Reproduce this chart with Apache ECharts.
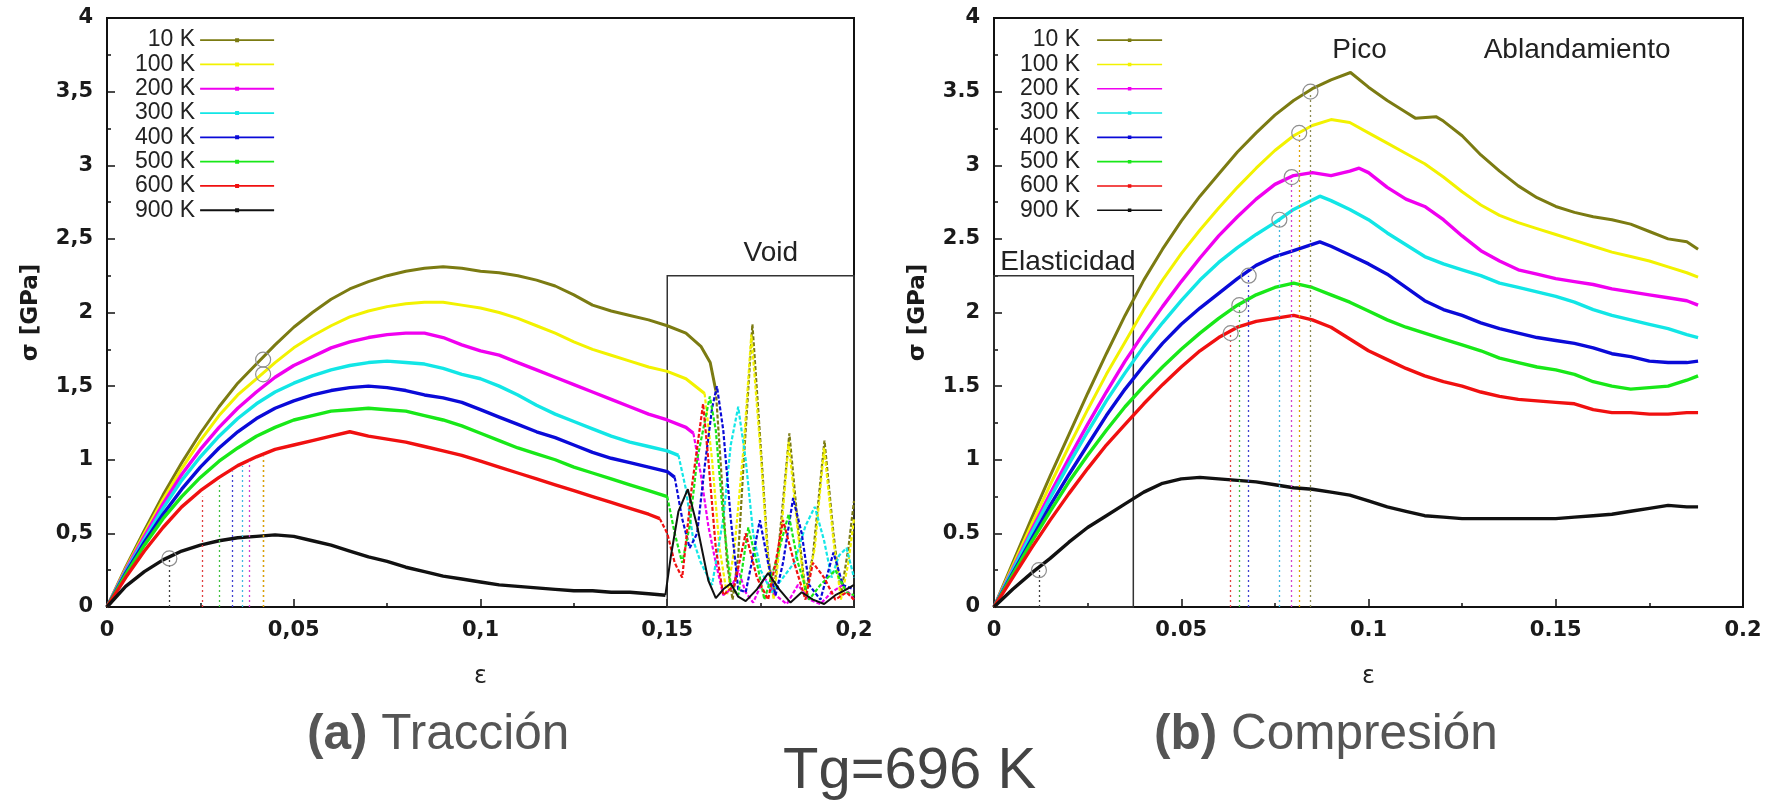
<!DOCTYPE html>
<html><head><meta charset="utf-8">
<script src="https://cdn.jsdelivr.net/npm/echarts@6/dist/echarts.min.js"></script>
<style>html,body{margin:0;padding:0;background:#fff}#c{width:1776px;height:802px}</style>
</head><body><div id="c"></div>
<script>
// ---------- categories ----------
const temps = ['10 K','100 K','200 K','300 K','400 K','500 K','600 K','900 K'];
const colors = ['#7b7b12','#f2f200','#f000f0','#12e6e6','#0a0ad8','#18e818','#f01010','#111111'];
const markColors = ['#8a8a50','#e0a000','#d040d0','#40b8e0','#4040d0','#40c040','#e04040','#404040'];

// ---------- tick labels ----------
const xTicksTrac = ['0','0,05','0,1','0,15','0,2'];
const xTicksComp = ['0','0.05','0.1','0.15','0.2'];

// ---------- (a) Tracción: strain / stress [GPa] ----------
const trac10 = [[0,0],[0.005,0.27],[0.01,0.52],[0.015,0.76],[0.02,0.98],[0.025,1.18],[0.03,1.36],[0.035,1.52],[0.04,1.65],[0.045,1.78],[0.05,1.9],[0.055,2.0],[0.06,2.09],[0.065,2.16],[0.07,2.21],[0.075,2.25],[0.08,2.28],[0.085,2.3],[0.09,2.31],[0.095,2.3],[0.1,2.28],[0.105,2.27],[0.11,2.25],[0.115,2.22],[0.12,2.18],[0.125,2.12],[0.13,2.05],[0.135,2.01],[0.14,1.98],[0.145,1.95],[0.15,1.91],[0.155,1.86],[0.159,1.77],[0.1615,1.66],[0.163,1.47],
  [0.1645,0.9],[0.166,0.3],[0.1675,0.05],[0.169,0.35],[0.1705,1.0],[0.1728,1.92],[0.175,1.1],[0.177,0.35],[0.1785,0.08],[0.18,0.45],[0.1827,1.18],[0.185,0.55],[0.187,0.1],[0.189,0.35],[0.1921,1.13],[0.1945,0.5],[0.1965,0.08],[0.1985,0.4],[0.2,0.72]];
const trac100 = [[0,0],[0.005,0.26],[0.01,0.5],[0.015,0.73],[0.02,0.94],[0.025,1.13],[0.03,1.3],[0.035,1.44],[0.04,1.55],[0.045,1.66],[0.05,1.76],[0.055,1.84],[0.06,1.91],[0.065,1.97],[0.07,2.01],[0.075,2.04],[0.08,2.06],[0.085,2.07],[0.09,2.07],[0.095,2.05],[0.1,2.03],[0.105,2.0],[0.11,1.96],[0.115,1.91],[0.12,1.86],[0.125,1.8],[0.13,1.75],[0.135,1.71],[0.14,1.67],[0.145,1.63],[0.15,1.6],[0.155,1.55],[0.16,1.45],
  [0.162,1.0],[0.164,0.4],[0.166,0.08],[0.168,0.4],[0.1705,1.1],[0.1725,1.85],[0.175,1.05],[0.177,0.3],[0.1785,0.05],[0.1805,0.5],[0.1825,1.12],[0.185,0.5],[0.187,0.08],[0.1895,0.4],[0.192,1.08],[0.1945,0.45],[0.1965,0.05],[0.1985,0.3],[0.2,0.6]];
const trac200 = [[0,0],[0.005,0.25],[0.01,0.48],[0.015,0.7],[0.02,0.9],[0.025,1.07],[0.03,1.22],[0.035,1.35],[0.04,1.46],[0.045,1.56],[0.05,1.64],[0.055,1.7],[0.06,1.76],[0.065,1.8],[0.07,1.83],[0.075,1.85],[0.08,1.86],[0.085,1.86],[0.09,1.83],[0.095,1.78],[0.1,1.74],[0.105,1.71],[0.11,1.66],[0.115,1.61],[0.12,1.56],[0.125,1.51],[0.13,1.46],[0.135,1.41],[0.14,1.36],[0.145,1.31],[0.15,1.27],[0.155,1.22],[0.157,1.18],
  [0.159,0.9],[0.161,0.55],[0.163,0.3],[0.165,0.08],[0.167,0.12],[0.169,0.25],[0.171,0.1],[0.173,0.03],[0.176,0.2],[0.179,0.08],[0.182,0.02],[0.185,0.15],[0.188,0.05],[0.191,0.02],[0.194,0.1],[0.197,0.15],[0.2,0.05]];
const trac300 = [[0,0],[0.005,0.24],[0.01,0.46],[0.015,0.67],[0.02,0.86],[0.025,1.02],[0.03,1.16],[0.035,1.28],[0.04,1.38],[0.045,1.46],[0.05,1.52],[0.055,1.57],[0.06,1.61],[0.065,1.64],[0.07,1.66],[0.075,1.67],[0.08,1.66],[0.085,1.65],[0.09,1.62],[0.095,1.58],[0.1,1.55],[0.105,1.5],[0.11,1.44],[0.115,1.37],[0.12,1.31],[0.125,1.26],[0.13,1.21],[0.135,1.16],[0.14,1.12],[0.145,1.09],[0.15,1.06],[0.153,1.03],
  [0.155,0.8],[0.157,0.45],[0.159,0.3],[0.162,0.15],[0.165,0.6],[0.167,1.1],[0.169,1.36],[0.171,1.0],[0.173,0.5],[0.175,0.25],[0.178,0.1],[0.181,0.2],[0.184,0.3],[0.187,0.55],[0.1895,0.68],[0.192,0.45],[0.194,0.2],[0.196,0.35],[0.198,0.4],[0.2,0.2]];
const trac400 = [[0,0],[0.005,0.23],[0.01,0.44],[0.015,0.63],[0.02,0.8],[0.025,0.95],[0.03,1.08],[0.035,1.19],[0.04,1.28],[0.045,1.35],[0.05,1.4],[0.055,1.44],[0.06,1.47],[0.065,1.49],[0.07,1.5],[0.075,1.49],[0.08,1.47],[0.085,1.44],[0.09,1.42],[0.095,1.39],[0.1,1.34],[0.105,1.29],[0.11,1.24],[0.115,1.19],[0.12,1.15],[0.125,1.1],[0.13,1.05],[0.135,1.01],[0.14,0.98],[0.145,0.95],[0.15,0.92],[0.152,0.88],
  [0.154,0.6],[0.156,0.4],[0.158,0.5],[0.16,0.95],[0.162,1.35],[0.1633,1.5],[0.165,1.2],[0.167,0.6],[0.169,0.12],[0.171,0.1],[0.173,0.35],[0.1748,0.59],[0.177,0.3],[0.179,0.08],[0.181,0.3],[0.1837,0.74],[0.186,0.5],[0.188,0.15],[0.191,0.05],[0.1945,0.37],[0.197,0.15],[0.2,0.12]];
const trac500 = [[0,0],[0.005,0.22],[0.01,0.42],[0.015,0.6],[0.02,0.75],[0.025,0.88],[0.03,0.99],[0.035,1.08],[0.04,1.16],[0.045,1.22],[0.05,1.27],[0.055,1.3],[0.06,1.33],[0.065,1.34],[0.07,1.35],[0.075,1.34],[0.08,1.33],[0.085,1.3],[0.09,1.27],[0.095,1.23],[0.1,1.18],[0.105,1.13],[0.11,1.08],[0.115,1.04],[0.12,1.0],[0.125,0.95],[0.13,0.91],[0.135,0.87],[0.14,0.83],[0.145,0.79],[0.15,0.75],
  [0.152,0.5],[0.154,0.3],[0.156,0.55],[0.158,1.0],[0.1614,1.43],[0.163,1.2],[0.165,0.6],[0.167,0.15],[0.169,0.08],[0.1717,0.54],[0.174,0.3],[0.176,0.05],[0.179,0.3],[0.1825,0.63],[0.185,0.3],[0.188,0.05],[0.191,0.15],[0.195,0.25],[0.198,0.1],[0.2,0.08]];
const trac600 = [[0,0],[0.005,0.2],[0.01,0.38],[0.015,0.54],[0.02,0.68],[0.025,0.79],[0.03,0.88],[0.035,0.96],[0.04,1.02],[0.045,1.07],[0.05,1.1],[0.055,1.13],[0.06,1.16],[0.065,1.19],[0.07,1.16],[0.075,1.14],[0.08,1.12],[0.085,1.09],[0.09,1.06],[0.095,1.03],[0.1,0.99],[0.105,0.95],[0.11,0.91],[0.115,0.87],[0.12,0.83],[0.125,0.79],[0.13,0.75],[0.135,0.71],[0.14,0.67],[0.145,0.63],[0.148,0.6],
  [0.15,0.5],[0.152,0.3],[0.154,0.2],[0.1565,0.8],[0.1596,1.38],[0.161,1.0],[0.163,0.4],[0.165,0.08],[0.168,0.15],[0.171,0.5],[0.174,0.2],[0.177,0.05],[0.179,0.3],[0.181,0.59],[0.184,0.3],[0.187,0.05],[0.189,0.3],[0.192,0.2],[0.195,0.05],[0.198,0.1],[0.2,0.05]];
const trac900 = [[0,0],[0.005,0.14],[0.01,0.24],[0.015,0.32],[0.02,0.38],[0.025,0.42],[0.03,0.45],[0.035,0.47],[0.04,0.48],[0.045,0.49],[0.05,0.48],[0.055,0.45],[0.06,0.42],[0.065,0.38],[0.07,0.34],[0.075,0.31],[0.08,0.27],[0.085,0.24],[0.09,0.21],[0.095,0.19],[0.1,0.17],[0.105,0.15],[0.11,0.14],[0.115,0.13],[0.12,0.12],[0.125,0.11],[0.13,0.11],[0.135,0.1],[0.14,0.1],[0.145,0.09],[0.1495,0.08],
  [0.151,0.35],[0.153,0.65],[0.1555,0.8],[0.158,0.55],[0.161,0.18],[0.163,0.06],[0.165,0.12],[0.167,0.16],[0.169,0.07],[0.171,0.04],[0.174,0.12],[0.177,0.23],[0.18,0.12],[0.183,0.03],[0.186,0.1],[0.189,0.05],[0.192,0.02],[0.195,0.08],[0.198,0.12],[0.2,0.15]];
// strain where each tension curve turns into the post-void oscillation
const tracSolidEnd = [0.163,0.16,0.157,0.153,0.152,0.15,0.148,0.1495];
// yield markers (tension): strain, circle stress (null = hidden under the curves), dotted-line top
const tracYieldX = [0.0418,0.0418,0.038,0.0362,0.0335,0.030,0.0254,0.0167];
const tracYieldV = [1.68,1.58,null,null,null,null,null,0.33];
const tracYieldTop = [1.02,1.02,0.99,0.96,0.92,0.85,0.75,0.32];

// ---------- (b) Compresión ----------
const comp10 = [[0,0],[0.005,0.3],[0.01,0.6],[0.015,0.89],[0.02,1.17],[0.025,1.45],[0.03,1.72],[0.035,1.98],[0.04,2.22],[0.045,2.43],[0.05,2.62],[0.055,2.79],[0.06,2.94],[0.065,3.09],[0.07,3.22],[0.075,3.34],[0.08,3.44],[0.085,3.52],[0.09,3.58],[0.0952,3.63],[0.1,3.53],[0.105,3.44],[0.11,3.36],[0.1125,3.32],[0.118,3.33],[0.12,3.3],[0.125,3.2],[0.13,3.07],[0.135,2.96],[0.14,2.86],[0.145,2.78],[0.15,2.72],[0.155,2.68],[0.16,2.65],[0.165,2.63],[0.17,2.6],[0.175,2.55],[0.18,2.5],[0.185,2.48],[0.188,2.43]];
const comp100 = [[0,0],[0.005,0.28],[0.01,0.56],[0.015,0.83],[0.02,1.09],[0.025,1.34],[0.03,1.58],[0.035,1.8],[0.04,2.02],[0.045,2.22],[0.05,2.4],[0.055,2.56],[0.06,2.71],[0.065,2.85],[0.07,2.98],[0.075,3.1],[0.08,3.2],[0.085,3.27],[0.09,3.31],[0.095,3.29],[0.1,3.22],[0.105,3.15],[0.11,3.08],[0.115,3.01],[0.12,2.92],[0.125,2.82],[0.13,2.73],[0.135,2.66],[0.14,2.61],[0.145,2.57],[0.15,2.53],[0.155,2.49],[0.16,2.45],[0.165,2.41],[0.17,2.38],[0.175,2.35],[0.18,2.31],[0.185,2.27],[0.188,2.24]];
const comp200 = [[0,0],[0.005,0.26],[0.01,0.52],[0.015,0.77],[0.02,1.01],[0.025,1.24],[0.03,1.46],[0.035,1.67],[0.04,1.86],[0.045,2.04],[0.05,2.21],[0.055,2.37],[0.06,2.52],[0.065,2.65],[0.07,2.77],[0.075,2.87],[0.08,2.93],[0.085,2.95],[0.09,2.93],[0.095,2.96],[0.0975,2.98],[0.1,2.95],[0.105,2.85],[0.11,2.77],[0.115,2.72],[0.12,2.63],[0.125,2.52],[0.13,2.42],[0.135,2.35],[0.14,2.29],[0.145,2.26],[0.15,2.23],[0.155,2.21],[0.16,2.19],[0.165,2.16],[0.17,2.14],[0.175,2.12],[0.18,2.1],[0.185,2.08],[0.188,2.05]];
const comp300 = [[0,0],[0.005,0.25],[0.01,0.5],[0.015,0.74],[0.02,0.97],[0.025,1.19],[0.03,1.4],[0.035,1.59],[0.04,1.77],[0.045,1.93],[0.05,2.08],[0.055,2.22],[0.06,2.34],[0.065,2.44],[0.07,2.53],[0.075,2.61],[0.08,2.7],[0.087,2.79],[0.09,2.76],[0.095,2.7],[0.1,2.63],[0.105,2.54],[0.11,2.46],[0.115,2.38],[0.12,2.33],[0.125,2.29],[0.13,2.25],[0.135,2.2],[0.14,2.17],[0.145,2.14],[0.15,2.11],[0.155,2.07],[0.16,2.02],[0.165,1.98],[0.17,1.95],[0.175,1.92],[0.18,1.89],[0.185,1.85],[0.188,1.83]];
const comp400 = [[0,0],[0.005,0.23],[0.01,0.46],[0.015,0.69],[0.02,0.9],[0.025,1.1],[0.03,1.3],[0.035,1.48],[0.04,1.64],[0.045,1.79],[0.05,1.92],[0.055,2.03],[0.06,2.13],[0.065,2.23],[0.07,2.32],[0.075,2.38],[0.08,2.42],[0.087,2.48],[0.09,2.45],[0.095,2.39],[0.1,2.33],[0.105,2.26],[0.11,2.17],[0.115,2.08],[0.12,2.02],[0.125,1.98],[0.13,1.93],[0.135,1.89],[0.14,1.86],[0.145,1.83],[0.15,1.81],[0.155,1.79],[0.16,1.76],[0.165,1.72],[0.17,1.7],[0.175,1.67],[0.18,1.66],[0.185,1.66],[0.188,1.67]];
const comp500 = [[0,0],[0.005,0.22],[0.01,0.44],[0.015,0.65],[0.02,0.85],[0.025,1.03],[0.03,1.2],[0.035,1.36],[0.04,1.5],[0.045,1.63],[0.05,1.75],[0.055,1.86],[0.06,1.96],[0.065,2.05],[0.07,2.12],[0.075,2.17],[0.08,2.2],[0.085,2.17],[0.09,2.12],[0.095,2.07],[0.1,2.01],[0.105,1.95],[0.11,1.9],[0.115,1.86],[0.12,1.82],[0.125,1.78],[0.13,1.74],[0.135,1.69],[0.14,1.66],[0.145,1.63],[0.15,1.61],[0.155,1.58],[0.16,1.53],[0.165,1.5],[0.17,1.48],[0.175,1.49],[0.18,1.5],[0.185,1.54],[0.188,1.57]];
const comp600 = [[0,0],[0.005,0.2],[0.01,0.4],[0.015,0.59],[0.02,0.77],[0.025,0.94],[0.03,1.1],[0.035,1.24],[0.04,1.38],[0.045,1.51],[0.05,1.63],[0.055,1.74],[0.06,1.83],[0.065,1.9],[0.07,1.94],[0.075,1.96],[0.08,1.98],[0.085,1.95],[0.09,1.9],[0.095,1.82],[0.1,1.74],[0.105,1.68],[0.11,1.62],[0.115,1.57],[0.12,1.53],[0.125,1.5],[0.13,1.46],[0.135,1.43],[0.14,1.41],[0.145,1.4],[0.15,1.39],[0.155,1.38],[0.16,1.34],[0.165,1.32],[0.17,1.32],[0.175,1.31],[0.18,1.31],[0.185,1.32],[0.188,1.32]];
const comp900 = [[0,0],[0.005,0.12],[0.01,0.23],[0.015,0.33],[0.02,0.44],[0.025,0.54],[0.03,0.62],[0.035,0.7],[0.04,0.78],[0.045,0.84],[0.05,0.87],[0.055,0.88],[0.06,0.87],[0.065,0.86],[0.07,0.85],[0.075,0.83],[0.08,0.81],[0.085,0.8],[0.09,0.78],[0.095,0.76],[0.1,0.72],[0.105,0.68],[0.11,0.65],[0.115,0.62],[0.12,0.61],[0.125,0.6],[0.13,0.6],[0.135,0.6],[0.14,0.6],[0.145,0.6],[0.15,0.6],[0.155,0.61],[0.16,0.62],[0.165,0.63],[0.17,0.65],[0.175,0.67],[0.18,0.69],[0.185,0.68],[0.188,0.68]];
const compYieldX = [0.0845,0.0815,0.0795,0.0762,0.068,0.0655,0.0632,0.012];
const compYieldV = [3.5,3.22,2.92,2.63,2.25,2.05,1.86,0.25];

const tracData = [trac10,trac100,trac200,trac300,trac400,trac500,trac600,trac900];
const compData = [comp10,comp100,comp200,comp300,comp400,comp500,comp600,comp900];

// ---------- build ----------
const TICK_FONT = {fontFamily:'DejaVu Sans', fontWeight:'bold', fontSize:21, color:'#1a1a1a'};
function xAxisCfg(gridIndex, labels){
  return {type:'value', gridIndex, min:0, max:0.2, interval:0.05,
    name:'ε', nameLocation:'middle', nameGap:58,
    nameTextStyle:{fontFamily:'DejaVu Sans', fontSize:24, color:'#222'},
    axisLine:{show:true, onZero:false, lineStyle:{color:'#111', width:2}},
    axisTick:{show:true, inside:true, length:8, lineStyle:{color:'#111', width:1.5}},
    minorTick:{show:true, splitNumber:2, length:4, lineStyle:{color:'#111', width:1.5}},
    splitLine:{show:false},
    axisLabel:Object.assign({margin:13, formatter:(v)=>labels[Math.round(v/0.05)]}, TICK_FONT)};
}
function yAxisCfg(gridIndex, comma){
  return {type:'value', gridIndex, min:0, max:4, interval:0.5,
    name:'σ [GPa]', nameLocation:'middle', nameGap:64, nameRotate:90,
    nameTextStyle:{fontFamily:'DejaVu Sans', fontWeight:'bold', fontSize:23, color:'#1a1a1a'},
    axisLine:{show:true, onZero:false, lineStyle:{color:'#111', width:2}},
    axisTick:{show:true, inside:true, length:8, lineStyle:{color:'#111', width:1.5}},
    minorTick:{show:true, splitNumber:2, length:4, lineStyle:{color:'#111', width:1.5}},
    splitLine:{show:false},
    axisLabel:Object.assign({margin:14, formatter:(v)=>{const s=String(+v.toFixed(2)); return comma?s.replace('.',','):s;}}, TICK_FONT)};
}
const annoText = {fontFamily:'Liberation Sans', fontSize:28, color:'#222'};
const circleStyle = {color:'rgba(0,0,0,0)', borderColor:'#8f8f8f', borderWidth:1.2};

const series = [];
temps.forEach((name, i) => {
  const end = tracSolidEnd[i];
  const w = i < 2 ? 3 : 3.4;
  const base = {type:'line', name, showSymbol:false, symbol:'none', silent:true, animation:false,
    itemStyle:{color:colors[i]}, emphasis:{disabled:true}, clip:true};
  const s1 = Object.assign({}, base, {xAxisIndex:0, yAxisIndex:0,
    data: tracData[i].filter(p => p[0] <= end),
    lineStyle:{color:colors[i], width:w},
    markLine:{silent:true, symbol:['none','none'], label:{show:false},
      lineStyle:{color:markColors[i], width:1.3, type:[2,3]},
      data:[[{coord:[tracYieldX[i],0]},{coord:[tracYieldX[i],tracYieldTop[i]]}]]},
    markPoint:{silent:true, symbol:'circle', symbolSize:15, label:{show:false},
      itemStyle:circleStyle,
      data: tracYieldV[i] == null ? [] : [{coord:[tracYieldX[i], tracYieldV[i]]}]}
  });
  const s2 = Object.assign({}, base, {xAxisIndex:0, yAxisIndex:0,
    data: tracData[i].filter(p => p[0] >= end),
    lineStyle:{color:colors[i], width: i===7 ? 2 : 2.2, type: i===7 ? 'solid' : [4,2]}});
  const s3 = Object.assign({}, base, {xAxisIndex:1, yAxisIndex:1,
    data: compData[i],
    lineStyle:{color:colors[i], width:w},
    markLine:{silent:true, symbol:['none','none'], label:{show:false},
      lineStyle:{color:markColors[i], width:1.3, type:[2,3]},
      data:[[{coord:[compYieldX[i],0]},{coord:[compYieldX[i],compYieldV[i]]}]]},
    markPoint:{silent:true, symbol:'circle', symbolSize:15, label:{show:false},
      itemStyle:circleStyle,
      data:[{coord:[compYieldX[i], compYieldV[i]]}]}
  });
  if (i === 7) {
    s1.markArea = {silent:true,
      itemStyle:{color:'rgba(0,0,0,0)', borderColor:'#333', borderWidth:1.5},
      label:{show:true, position:[77,-36], formatter:'Void', ...annoText},
      data:[[{coord:[0.15,0]},{coord:[0.2,2.25]}]]};
    s3.markArea = {silent:true,
      itemStyle:{color:'rgba(0,0,0,0)', borderColor:'#333', borderWidth:1.5},
      label:{show:true, position:[7,-27], formatter:'Elasticidad', ...annoText},
      data:[[{coord:[0,0]},{coord:[0.0372,2.25]}]]};
    s3.markPoint.data = s3.markPoint.data.concat([
      {coord:[0.0976,3.78], symbolSize:0, label:{show:true, position:'inside', formatter:'Pico', ...annoText}},
      {coord:[0.1557,3.78], symbolSize:0, label:{show:true, position:'inside', formatter:'Ablandamiento', ...annoText}}
    ]);
  }
  series.push(s1, s2, s3);
});

const legendIcon = 'path://M0,4.1h74v1.8h-74zM35,3h4v4h-4z';
const legendBase = {data:temps, orient:'vertical', align:'right', top:28, padding:0, itemGap:0,
  itemHeight:4, icon:legendIcon, selectedMode:false,
  itemStyle:{borderWidth:0}, lineStyle:{width:0},
  textStyle:{fontFamily:'Liberation Sans', fontSize:23, color:'#222', lineHeight:24.3}};

const CAP = 49.5;
const capRich = {
  b:{fontFamily:'Liberation Sans', fontWeight:'bold', fontSize:CAP, color:'#555'},
  n:{fontFamily:'Liberation Sans', fontWeight:'normal', fontSize:CAP, color:'#555'}
};
const capStyle = {fontSize:CAP, fontFamily:'Liberation Sans', fontWeight:'normal', color:'#555', rich:capRich};

const option = {
  animation:false,
  backgroundColor:'#fff',
  grid:[
    {left:107, top:18, width:747, height:589, show:true, borderColor:'#111', borderWidth:2, backgroundColor:'transparent'},
    {left:994, top:18, width:749, height:589, show:true, borderColor:'#111', borderWidth:2, backgroundColor:'transparent'}
  ],
  xAxis:[xAxisCfg(0, xTicksTrac), xAxisCfg(1, xTicksComp)],
  yAxis:[yAxisCfg(0, true), yAxisCfg(1, false)],
  legend:[
    Object.assign({}, legendBase, {left:135, itemWidth:74}),
    Object.assign({}, legendBase, {left:1020, itemWidth:65,
      textStyle:Object.assign({}, legendBase.textStyle, {padding:[0,12,0,0]})})
  ],
  title:[
    {text:'{b|(a)}{n| Tracción}', left:307, top:710, padding:0, textStyle:capStyle},
    {text:'{b|(b)}{n| Compresión}', left:1154, top:710, padding:0, textStyle:capStyle},
    {text:'Tg=696 K', left:783, top:743, padding:0,
      textStyle:{fontFamily:'Liberation Sans', fontWeight:'normal', fontSize:58, color:'#444'}}
  ],
  series
};
const chart = echarts.init(document.getElementById('c'), null, {renderer:'canvas'});
chart.setOption(option);
</script></body></html>
